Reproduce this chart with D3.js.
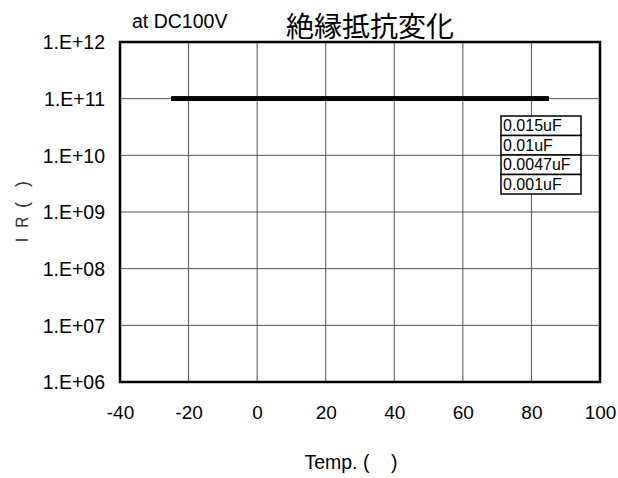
<!DOCTYPE html>
<html><head><meta charset="utf-8">
<script src="https://cdn.jsdelivr.net/npm/d3@7"></script>
<style>
body{margin:0;background:#fff;}
svg{display:block;font-family:"Liberation Sans",Arial,sans-serif;}
</style></head>
<body><svg id="c" width="618" height="478"></svg>
<script>
const xTicks = [-40,-20,0,20,40,60,80,100];
const yTicks = [1e6,1e7,1e8,1e9,1e10,1e11,1e12];
const yTickLabels = ["1.E+06","1.E+07","1.E+08","1.E+09","1.E+10","1.E+11","1.E+12"];
const temps = [-25, 25, 85];
const s0015 = [1e11, 1e11, 1e11];
const s001 = [1e11, 1e11, 1e11];
const s0047 = [1e11, 1e11, 1e11];
const s0001 = [1e11, 1e11, 1e11];
const seriesNames = ["0.015uF","0.01uF","0.0047uF","0.001uF"];
const seriesVals = [s0015, s001, s0047, s0001];

const svg = d3.select("#c");
const L=120, R=600, T=42, B=382;
const x = d3.scaleLinear().domain([-40,100]).range([L,R]);
const y = d3.scaleLog().domain([1e6,1e12]).range([B,T]);

// grid
const g = svg.append("g");
g.selectAll(".vg").data(xTicks).join("line")
  .attr("x1",d=>x(d)).attr("x2",d=>x(d)).attr("y1",T).attr("y2",B)
  .attr("stroke","#555").attr("stroke-width",1);
g.selectAll(".hg").data(yTicks).join("line")
  .attr("x1",L).attr("x2",R).attr("y1",d=>y(d)).attr("y2",d=>y(d))
  .attr("stroke","#555").attr("stroke-width",1);

// axes labels
const xAxis = d3.axisBottom(x).tickValues(xTicks).tickSize(0).tickPadding(0).tickFormat(d=>String(d));
const xa = svg.append("g").attr("transform",`translate(0,${B})`).call(xAxis);
xa.select(".domain").remove();
xa.selectAll("text").attr("font-size",19).attr("fill","#000").attr("font-family","Liberation Sans, Arial, sans-serif")
  .attr("dy",null).attr("y",37);

const yAxis = d3.axisLeft(y).tickValues(yTicks).tickSize(0).tickPadding(0)
  .tickFormat(d=>yTickLabels[yTicks.indexOf(d)]);
const ya = svg.append("g").attr("transform",`translate(${L-15},0)`).call(yAxis);
ya.select(".domain").remove();
ya.selectAll("text").attr("font-size",19.5).attr("fill","#000").attr("font-family","Liberation Sans, Arial, sans-serif")
  .attr("dy","0.35em");

// border
svg.append("rect").attr("x",L).attr("y",T).attr("width",R-L).attr("height",B-T)
  .attr("fill","none").attr("stroke","#000").attr("stroke-width",2.5);

// data
const line = d3.line().x((d,i)=>x(temps[i])).y(d=>y(d));
seriesVals.forEach(v=>{
  svg.append("path").datum(v).attr("d",line).attr("fill","none")
    .attr("stroke","#000").attr("stroke-width",4.5);
});

// legend
const lx=501, lw=80, ltop=116, lh=19.5;
const lg = svg.append("g");
seriesNames.forEach((n,i)=>{
  lg.append("rect").attr("x",lx).attr("y",ltop+i*lh).attr("width",lw).attr("height",lh)
    .attr("fill","#fff").attr("stroke","#000").attr("stroke-width",1.5);
  lg.append("text").attr("x",lx+2).attr("y",ltop+i*lh+15).attr("font-size",16).text(n);
});

// titles
svg.append("text").attr("x",370).attr("y",37).attr("text-anchor","middle")
  .attr("font-family","Noto Sans CJK JP, sans-serif").attr("font-size",28).text("絶縁抵抗変化");
svg.append("text").attr("x",132).attr("y",28).attr("font-size",19.5).text("at DC100V");
svg.append("text").attr("x",351).attr("y",469).attr("text-anchor","middle").attr("font-size",19.5)
  .style("white-space","pre").text("Temp. (    )");
svg.append("text").attr("transform","translate(28,215) rotate(-90)").attr("text-anchor","middle")
  .attr("font-size",18).attr("fill","#333").style("white-space","pre").text("ＩＲ (   )");
</script></body></html>
